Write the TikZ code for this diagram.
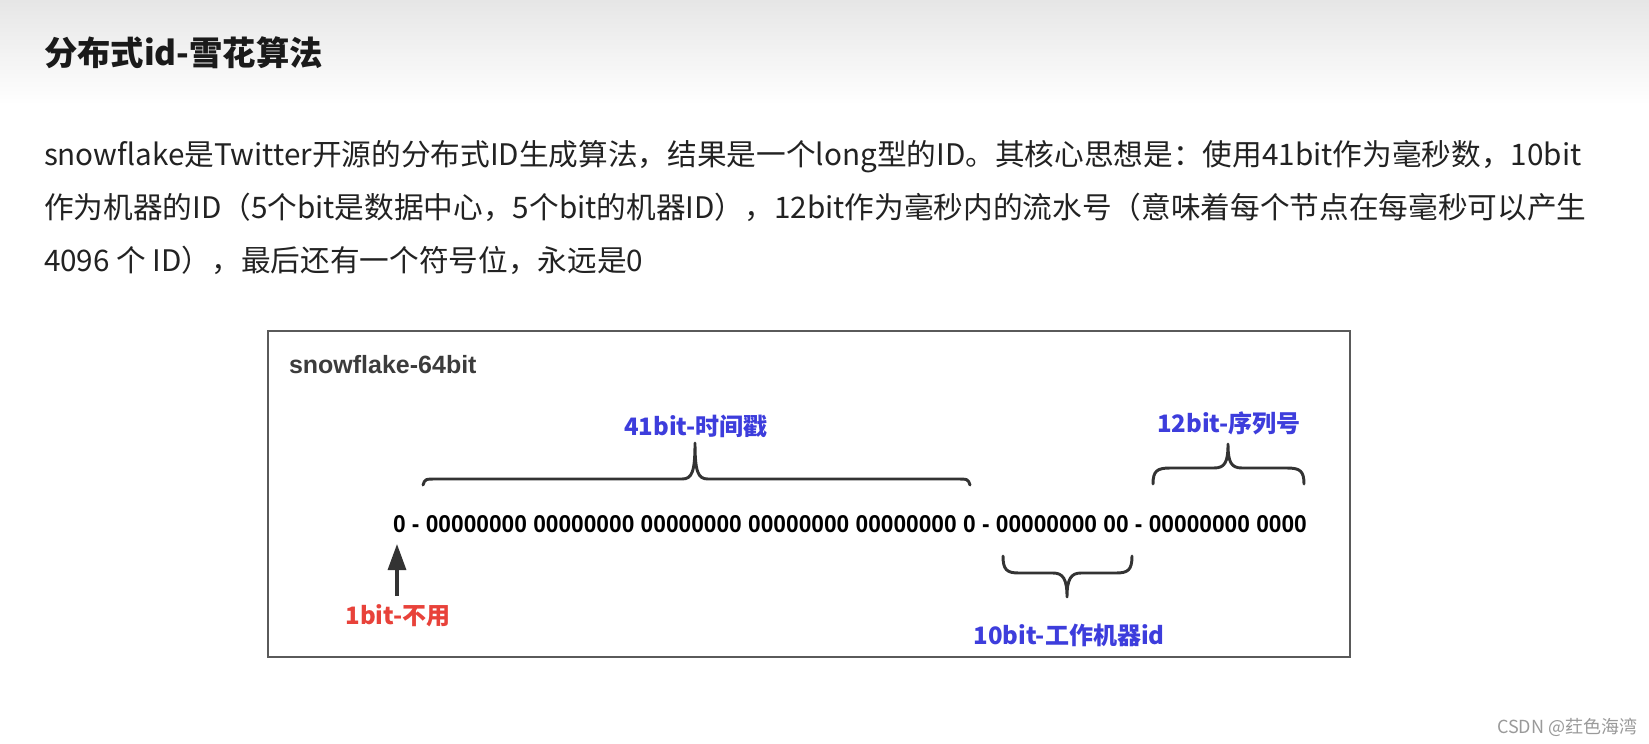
\documentclass[tikz,border=0pt]{standalone}
\usepackage{fontspec}
\usepackage{graphicx}
\setmainfont{Noto Sans CJK SC}
\newfontfamily\cjk{Noto Sans CJK SC}
\newfontfamily\arialf{Liberation Sans}
\usetikzlibrary{arrows.meta}
\definecolor{bodytext}{HTML}{222222}
\definecolor{lblblue}{HTML}{3D3DDC}
\definecolor{lblred}{HTML}{E8423A}
\definecolor{bracecol}{HTML}{333333}
\definecolor{boxcol}{HTML}{5A5A5A}
\definecolor{wmcol}{HTML}{9A9A9A}
\tikzset{
  txt/.style={inner sep=0pt, outer sep=0pt, anchor=base west},
  bodyline/.style={txt, text=bodytext, font=\cjk\fontsize{22.25pt}{27pt}\selectfont},
  lbl/.style={inner sep=0pt, outer sep=0pt, font=\cjk\bfseries\fontsize{18pt}{20pt}\selectfont},
  bracepath/.style={draw=bracecol, line width=2.2pt, line cap=round, line join=round},
}
\begin{document}
\begin{tikzpicture}[x=0.75pt,y=-0.75pt]
\useasboundingbox (0,0) rectangle (1649,743);
\fill[white] (0,0) rectangle (1649,743);
\shade[top color={rgb,255:red,230;green,230;blue,230}, bottom color=white] (0,0) rectangle (1649,105);

% title
\node[txt, text={rgb,255:red,26;green,26;blue,26}, font=\cjk\bfseries\fontsize{25pt}{30pt}\selectfont] (title) at (44,65) {分布式id-雪花算法};

% paragraph
\node[bodyline] (p1) at (44,165) {snowflake是Twitter开源的分布式ID生成算法，结果是一个long型的ID。其核心思想是：使用41bit作为毫秒数，10bit};
\node[bodyline] (p2) at (44,218) {作为机器的ID（5个bit是数据中心，5个bit的机器ID），12bit作为毫秒内的流水号（意味着每个节点在每毫秒可以产生};
\node[bodyline] (p3) at (44,271) {4096 个 ID），最后还有一个符号位，永远是0};

% frame
\draw[boxcol, line width=1.1pt] (268,331) rectangle (1350,657);
\node[txt, text={rgb,255:red,60;green,60;blue,60}, font=\arialf\bfseries\fontsize{18.75pt}{22pt}\selectfont] (sf) at (289,373) {snowflake-64bit};

% bit string
\node[txt, text=black] (bits) at (393,532) {\resizebox{685.5pt}{12.75pt}{\arialf\bfseries 0 - 00000000 00000000 00000000 00000000 00000000 0 - 00000000 00 - 00000000 0000}};

% labels
\node[lbl, text=lblblue] (l41) at (696,426) {41bit-时间戳};
\node[lbl, text=lblblue] (l12) at (1229,423) {12bit-序列号};
\node[lbl, text=lblred] (l1) at (398,616) {1bit-不用};
\node[lbl, text=lblblue] (l10) at (1069,635) {10bit-工作机器id};

% brace 41
\coordinate (b41l) at (423,485);
\coordinate (b41t) at (695,443);
\coordinate (b41r) at (970,485);
\path[bracepath] (b41l) .. controls (425,479) .. (437,479) -- (682,479)
  .. controls (692,479) and (695,472) .. (b41t)
  .. controls (695,472) and (698,479) .. (708,479) -- (956,479)
  .. controls (968,479) .. (b41r);

% brace 12
\coordinate (b12l) at (1153,484);
\coordinate (b12t) at (1228,444);
\coordinate (b12r) at (1304,484);
\path[bracepath] (b12l) .. controls (1153,471) and (1157,468) .. (1170,468) -- (1214,468)
  .. controls (1225,468) and (1228,462) .. (b12t)
  .. controls (1228,462) and (1231,468) .. (1242,468) -- (1287,468)
  .. controls (1300,468) and (1304,471) .. (b12r);

% brace 10
\coordinate (b10l) at (1003,556);
\coordinate (b10t) at (1067,597);
\coordinate (b10r) at (1132,556);
\path[bracepath] (b10l) .. controls (1003,570) and (1007,573) .. (1019,573) -- (1053,573)
  .. controls (1063,573) and (1067,579) .. (b10t)
  .. controls (1067,579) and (1071,573) .. (1081,573) -- (1116,573)
  .. controls (1128,573) and (1132,570) .. (b10r);

% arrow
\coordinate (arrtail) at (397,596);
\coordinate (arrtip) at (397,544);
\draw[bracecol, line width=2.4pt, -{Triangle[length=19.5pt,width=13.5pt]}] (arrtail) -- (arrtip);

% watermark
\node[txt, text=wmcol, font=\cjk\fontsize{13.5pt}{16pt}\selectfont] (wm) at (1497,733) {CSDN @荭色海湾};
\end{tikzpicture}
\end{document}
